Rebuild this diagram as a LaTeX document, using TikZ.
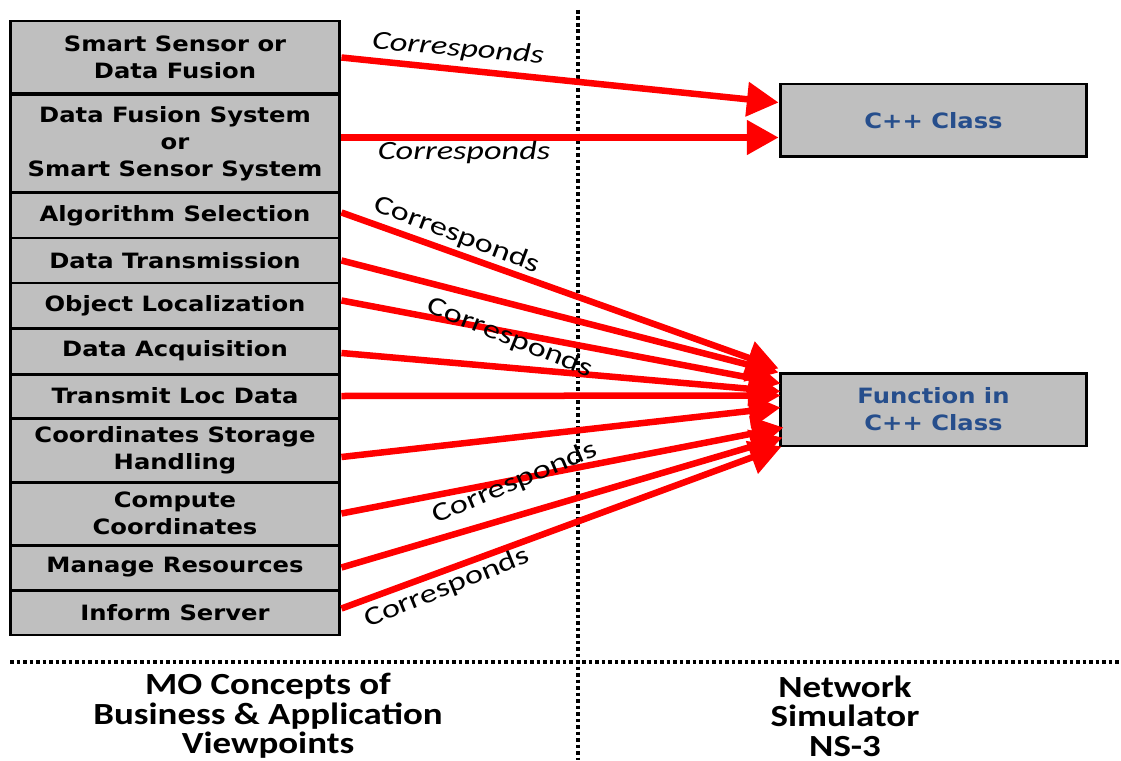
\documentclass[tikz,border=0pt]{standalone}
\usepackage{fontspec}
\usetikzlibrary{arrows.meta,calc}
\newfontfamily\boxfont[FakeStretch=1.15]{DejaVu Sans}
\newfontfamily\corrfont[FakeStretch=1.3]{Carlito}
\newfontfamily\botfont[FakeStretch=1.2]{Carlito}
\definecolor{boxgray}{RGB}{191,191,191}
\definecolor{txtblue}{RGB}{38,78,140}
\begin{document}
\begin{tikzpicture}[x=0.02cm,y=-0.02cm,
  row/.style={draw=black, line width=1.7pt, fill=boxgray, minimum width=6.6cm, inner sep=0pt, align=center,
    font=\boxfont\bfseries\fontsize{12}{15.3}\selectfont},
  nsbox/.style={draw=black, line width=1.7pt, fill=boxgray, minimum width=6.14cm, minimum height=1.46cm, inner sep=0pt, align=center,
    text=txtblue, font=\boxfont\bfseries\fontsize{12}{15.3}\selectfont},
  arr/.style={draw=red, line width=3.7pt, -{Triangle[length=18pt,width=19pt]}},
  corr/.style={inner sep=0pt, font=\corrfont\fontsize{15}{18}\selectfont},
  corri/.style={corr, font=\corrfont\itshape\fontsize{15}{18}\selectfont},
  bot/.style={align=center, inner sep=0pt, font=\botfont\bfseries\fontsize{17.5}{16.8}\selectfont},
  sep/.style={draw=black, line width=2pt, dash pattern=on 2pt off 1.7pt}
]
\useasboundingbox (0,0) rectangle (1121,760);
% separators
\draw[sep] (578,10) -- (578,760);
\draw[sep] (10,662) -- (1121,662);
% left column
\node[row, minimum height=1.46cm] (r1) at (175,57.5) {Smart Sensor or\\Data Fusion};
\node[row, minimum height=1.98cm] (r2) at (175,143.5) {Data Fusion System\\or\\Smart Sensor System};
\node[row, minimum height=0.9cm] (r3) at (175,215.5) {Algorithm Selection};
\node[row, minimum height=0.9cm] (r4) at (175,260.5) {Data Transmission};
\node[row, minimum height=0.9cm] (r5) at (175,305.5) {Object Localization};
\node[row, minimum height=0.92cm] (r6) at (175,351) {Data Acquisition};
\node[row, minimum height=0.88cm] (r7) at (175,396) {Transmit Loc Data};
\node[row, minimum height=1.28cm] (r8) at (175,450) {Coordinates Storage\\Handling};
\node[row, minimum height=1.26cm] (r9) at (175,513.5) {Compute\\Coordinates};
\node[row, minimum height=0.9cm] (r10) at (175,567.5) {Manage Resources};
\node[row, minimum height=0.9cm] (r11) at (175,612.5) {Inform Server};
% right boxes
\node[nsbox] (c1) at (933.5,120.5) {C++ Class};
\node[nsbox] (f) at (933.5,409.5) {Function in\\C++ Class};
% arrows
\draw[arr] (r1.east) -- ($(c1.west)+(0,-18)$);
\draw[arr] ($(r2.east)+(0,-6)$) -- ($(c1.west)+(0,17)$);
\draw[arr] ($(r3.east)+(0,-3)$) -- ($(f.west)+(0,-41)$);
\draw[arr] (r4.east) -- ($(f.west)+(0,-37)$);
\draw[arr] ($(r5.east)+(0,-5)$) -- ($(f.west)+(2,-26)$);
\draw[arr] ($(r6.east)+(0,2)$) -- ($(f.west)+(2,-18)$);
\draw[arr] (r7.east) -- ($(f.west)+(2,-14)$);
\draw[arr] ($(r8.east)+(0,7)$) -- ($(f.west)+(2,-2)$);
\draw[arr] (r9.east) -- ($(f.west)+(5,18)$);
\draw[arr] (r10.east) -- ($(f.west)+(4,28)$);
\draw[arr] ($(r11.east)+(0,-4)$) -- ($(f.west)+(3,37)$);
% labels
\node[corri, rotate=-5] (l1) at (458,49) {Corresponds};
\node[corri] (l2) at (464,152) {Corresponds};
\node[corr, rotate=-21] (l3) at (457,235) {Corresponds};
\node[corr, rotate=-22] (l4) at (510,338) {Corresponds};
\node[corr, rotate=23] (l5) at (515,483) {Corresponds};
\node[corr, rotate=22] (l6) at (447,588) {Corresponds};
% bottom captions
\node[bot] (mo) at (268,716) {MO Concepts of\\Business \& Application\\Viewpoints};
\node[bot] (ns) at (845,716) {Network\\Simulator\\NS-3};
\end{tikzpicture}
\end{document}
